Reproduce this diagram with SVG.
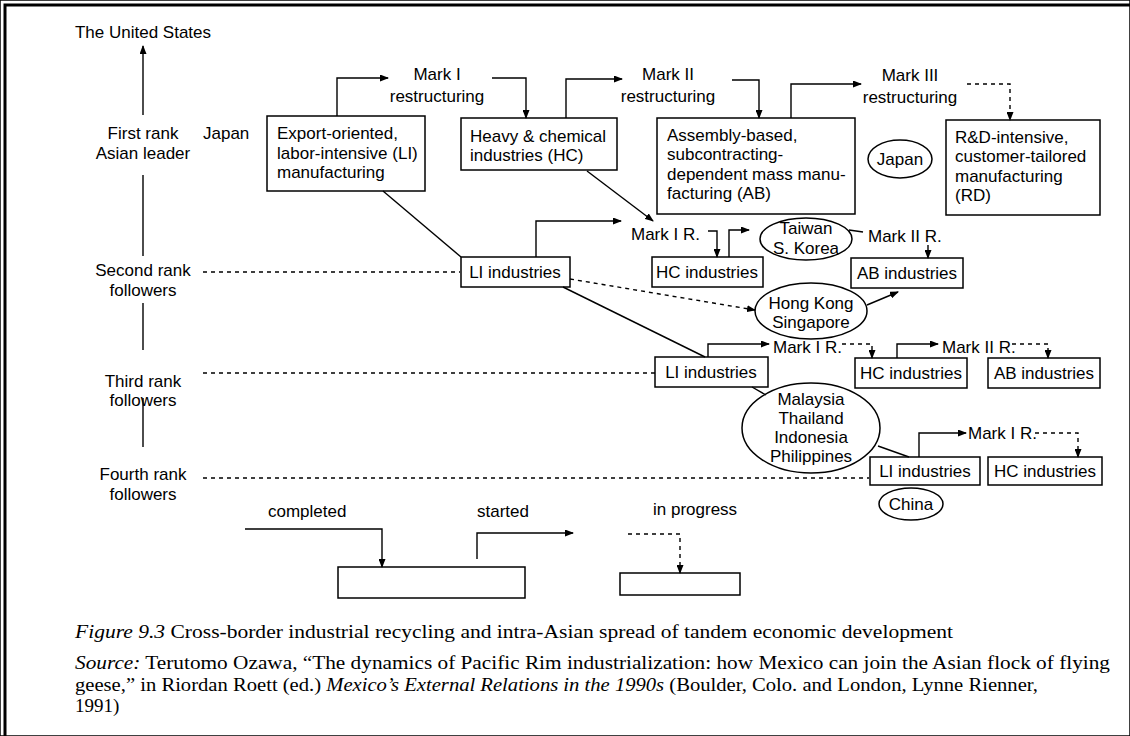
<svg xmlns="http://www.w3.org/2000/svg" width="1130" height="736" viewBox="0 0 1130 736">
<defs>
<marker id="ah" markerWidth="9" markerHeight="7" refX="8" refY="3.5" orient="auto" markerUnits="userSpaceOnUse">
<path d="M0,0 L9,3.5 L0,7 z" fill="#000"/>
</marker>
</defs>
<style>
text{font-family:"Liberation Sans",Arial,sans-serif;font-size:17px;fill:#000}
.m{text-anchor:middle}
.cap{font-family:"Liberation Serif","Times New Roman",serif;font-size:19px}
.it{font-style:italic}
rect,ellipse{fill:none;stroke:#000;stroke-width:1.5}
.c path{fill:none;stroke:#000;stroke-width:1.4}
.c .d{stroke-dasharray:4 4}
.c .a{marker-end:url(#ah)}
</style>
<rect width="1130" height="736" fill="#fff" stroke="none"/>
<path d="M5,736 V5 H1130" fill="none" stroke="#000" stroke-width="3"/>

<g id="axis">
<text class="m" x="143" y="38">The United States</text>
<text class="m" x="143" y="139">First rank</text>
<text class="m" x="143" y="159">Asian leader</text>
<text class="m" x="143" y="276">Second rank</text>
<text class="m" x="143" y="296">followers</text>
<text class="m" x="143" y="387">Third rank</text>
<text class="m" x="143" y="406">followers</text>
<text class="m" x="143" y="480">Fourth rank</text>
<text class="m" x="143" y="500">followers</text>
<text x="203" y="139">Japan</text>
</g>

<g class="c" id="connectors">
<path class="a" d="M143,115 V46"/>
<path d="M143,175 V256"/>
<path d="M143,303 V350"/>
<path d="M143,398 V447"/>
<path class="d" d="M203,272 H460"/>
<path class="d" d="M203,373 H655"/>
<path class="d" d="M203,478 H869"/>
<path class="a" d="M337,116 V78 H388"/>
<path class="a" d="M492,78 H526 V118"/>
<path class="a" d="M566,118 V79 H622"/>
<path class="a" d="M732,80 H759 V118"/>
<path class="a" d="M791,118 V84 H861"/>
<path class="a d" d="M967,84 H1010 V120"/>
<path d="M383,191 L461,257"/>
<path class="a" d="M536,257 V221 H621"/>
<path class="a" d="M587,171 L653,221"/>
<path class="a" d="M708,231 H717 V257"/>
<path class="a" d="M729,257 V230 H749"/>
<path d="M849,230 L863,232"/>
<path class="a" d="M928,245 V258"/>
<path class="a d" d="M570,279 L755,310"/>
<path class="a" d="M867,305 L898,292"/>
<path d="M563,287 L705,357"/>
<path class="a" d="M708,357 V344 H769"/>
<path class="a d" d="M842,344 H872 V358"/>
<path class="a" d="M897,358 V344 H938"/>
<path class="a d" d="M1012,344 H1048 V358"/>
<path d="M752,387 L766,395"/>
<path d="M878,446 L909,457"/>
<path class="a" d="M919,457 V433 H966"/>
<path class="a d" d="M1035,433 H1078 V457"/>
<path class="a" d="M245,529 H382 V567"/>
<path class="a" d="M477,559 V533 H573"/>
<path class="a d" d="M628,534 H680 V573"/>
</g>

<g id="mark1"><text class="m" x="437" y="80">Mark I</text><text class="m" x="437" y="102">restructuring</text></g>
<g id="mark2"><text class="m" x="668" y="80">Mark II</text><text class="m" x="668" y="102">restructuring</text></g>
<g id="mark3"><text class="m" x="910" y="81">Mark III</text><text class="m" x="910" y="103">restructuring</text></g>

<g id="li1"><rect x="267" y="116" width="158" height="75"/>
<text x="277" y="139">Export-oriented,</text><text x="277" y="159">labor-intensive (LI)</text><text x="277" y="178">manufacturing</text></g>
<g id="hc1"><rect x="461" y="118" width="156" height="52"/>
<text x="470" y="142">Heavy &amp; chemical</text><text x="470" y="161">industries (HC)</text></g>
<g id="ab1"><rect x="657" y="118" width="198" height="96"/>
<text x="667" y="141">Assembly-based,</text><text x="667" y="160">subcontracting-</text><text x="667" y="180">dependent mass manu-</text><text x="667" y="199">facturing (AB)</text></g>
<g id="japan"><ellipse cx="900" cy="159" rx="32" ry="19"/><text class="m" x="900" y="165">Japan</text></g>
<g id="rd1"><rect x="946" y="120" width="154" height="95"/>
<text x="955" y="143">R&amp;D-intensive,</text><text x="955" y="162">customer-tailored</text><text x="955" y="182">manufacturing</text><text x="955" y="201">(RD)</text></g>

<g id="li2"><rect x="461" y="257" width="109" height="30"/><text class="m" x="515" y="278">LI industries</text></g>
<g id="m1r2"><text x="631" y="240">Mark I R.</text></g>
<g id="hc2"><rect x="652" y="257" width="111" height="30"/><text class="m" x="707" y="278">HC industries</text></g>
<g id="taiwan"><ellipse cx="806" cy="239" rx="46" ry="21"/><text class="m" x="806" y="234">Taiwan</text><text class="m" x="806" y="254">S. Korea</text></g>
<g id="m2r2"><text x="868" y="242">Mark II R.</text></g>
<g id="ab2"><rect x="851" y="258" width="112" height="30"/><text class="m" x="907" y="279">AB industries</text></g>
<g id="hk"><ellipse cx="811" cy="311" rx="56" ry="28"/><text class="m" x="811" y="309">Hong Kong</text><text class="m" x="811" y="328">Singapore</text></g>

<g id="li3"><rect x="655" y="357" width="113" height="30"/><text class="m" x="711" y="378">LI industries</text></g>
<g id="m1r3"><text x="773" y="353">Mark I R.</text></g>
<g id="hc3"><rect x="855" y="358" width="112" height="30"/><text class="m" x="911" y="379">HC industries</text></g>
<g id="m2r3"><text x="942" y="353">Mark II R.</text></g>
<g id="ab3"><rect x="988" y="358" width="112" height="30"/><text class="m" x="1044" y="379">AB industries</text></g>
<g id="asean"><ellipse cx="811" cy="428" rx="69" ry="45"/>
<text class="m" x="811" y="405">Malaysia</text><text class="m" x="811" y="424">Thailand</text><text class="m" x="811" y="443">Indonesia</text><text class="m" x="811" y="462">Philippines</text></g>

<g id="li4"><rect x="870" y="457" width="110" height="28"/><text class="m" x="925" y="477">LI industries</text></g>
<g id="m1r4"><text x="968" y="439">Mark I R.</text></g>
<g id="hc4"><rect x="988" y="457" width="114" height="28"/><text class="m" x="1045" y="477">HC industries</text></g>
<g id="china"><ellipse cx="911" cy="504" rx="32" ry="16"/><text class="m" x="911" y="510">China</text></g>

<g id="legend">
<text x="268" y="517">completed</text>
<rect x="338" y="567" width="187" height="31"/>
<text x="477" y="517">started</text>
<text x="653" y="515">in progress</text>
<rect x="620" y="573" width="120" height="22"/>
</g>

<g id="caption">
<text class="cap" x="75" y="638" textLength="878" lengthAdjust="spacingAndGlyphs"><tspan class="it">Figure 9.3</tspan> Cross-border industrial recycling and intra-Asian spread of tandem economic development</text>
<text class="cap" x="75" y="669" textLength="1035" lengthAdjust="spacingAndGlyphs"><tspan class="it">Source:</tspan> Terutomo Ozawa, “The dynamics of Pacific Rim industrialization: how Mexico can join the Asian flock of flying</text>
<text class="cap" x="75" y="691" textLength="963" lengthAdjust="spacingAndGlyphs">geese,” in Riordan Roett (ed.) <tspan class="it">Mexico’s External Relations in the 1990s</tspan> (Boulder, Colo. and London, Lynne Rienner,</text>
<text class="cap" x="75" y="712">1991)</text>
</g>
</svg>
